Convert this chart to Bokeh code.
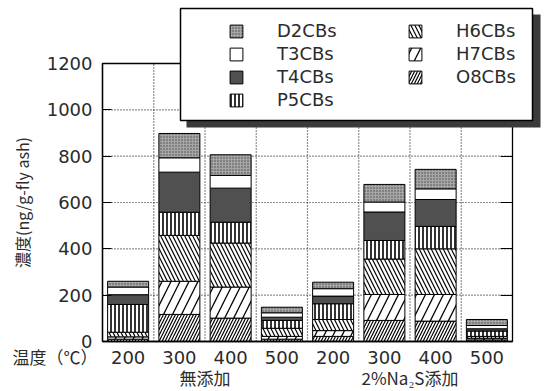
from bokeh.plotting import figure
from bokeh.models import (Range1d, LinearAxis, FixedTicker, Legend, LegendItem,
                          BoxAnnotation, Label, ColumnDataSource)
from bokeh.embed import file_html
from bokeh.resources import INLINE

# ---------------- data ----------------
temps = ["200", "300", "400", "500", "200", "300", "400", "500"]
groups = ["無添加", "2%Na₂S添加"]
group_of_bar = [0, 0, 0, 0, 1, 1, 1, 1]

# series, bottom of stack to top
series = ["O8CBs", "H7CBs", "H6CBs", "P5CBs", "T4CBs", "T3CBs", "D2CBs"]
O8 = [10, 117, 101, 10, 22, 91, 88, 7]
H7 = [10, 143, 134, 12, 25, 112, 115, 7]
H6 = [20, 198, 190, 35, 48, 153, 197, 8]
P5 = [120, 100, 90, 34, 68, 80, 97, 23]
T4 = [42, 173, 147, 14, 33, 123, 116, 10]
T3 = [33, 62, 55, 19, 32, 43, 46, 14]
D2 = [25, 105, 89, 24, 28, 76, 84, 26]

y_ticks = [0, 200, 400, 600, 800, 1000, 1200]
y_label = "濃度(ng/g-fly ash)"
x_title = "温度（℃）"

# ---------------- styles ----------------
fills = ["white", "white", "white", "white", "#505050", "white", "#a6a6a6"]
hatches = ["right_diagonal_line", "right_diagonal_line", "left_diagonal_line",
           "vertical_line", None, None, "dot"]
hscale = [6, 18, 8, 4, 12, 12, 3]
hweight = [1.2, 1.3, 1.2, 1.6, 1, 1, 0.8]
hcolor = ["black", "black", "black", "black", "black", "black", "#444444"]

TICK_FONT = "DejaVu Sans"
CJK_FONT = "Noto Sans CJK JP"
TXT = "#2b2b2b"

# ---------------- layout (canvas pixels) ----------------
W, H = 544, 391
PX_L, PX_R, PX_T, PX_B = 102, 512, 63, 341   # plotting area
GROUP_ROW_PX = 17                            # group-label row below the area

n = len(temps)
y_top = y_ticks[-1]
xs = n / (PX_R - PX_L)           # data units per pixel
ys = y_top / (PX_B - PX_T)

xpos = [i + 0.5 for i in range(n)]
src = ColumnDataSource(dict(x=xpos, O8CBs=O8, H7CBs=H7, H6CBs=H6, P5CBs=P5,
                            T4CBs=T4, T3CBs=T3, D2CBs=D2))

p = figure(width=W, height=H, output_backend="svg", toolbar_location=None,
           x_range=Range1d(-PX_L * xs, (W - PX_L) * xs),
           y_range=Range1d(-(H - PX_B) * ys, PX_B * ys),
           min_border=0)
p.outline_line_color = None
p.background_fill_color = "white"
p.border_fill_color = "white"
p.xgrid.visible = False
p.ygrid.visible = False

# dotted grid limited to the plotting area
bnd = list(range(1, n))
p.segment(x0=bnd, x1=bnd, y0=[y_ticks[0]] * len(bnd), y1=[y_top] * len(bnd),
          line_color="#222222", line_dash="1 2", line_width=1.2, level="underlay")
inner = y_ticks[1:-1]
p.segment(x0=[0] * len(inner), x1=[n] * len(inner), y0=inner, y1=inner,
          line_color="#222222", line_dash="1 2", line_width=1.2, level="underlay")

renderers = p.vbar_stack(series, x="x", width=0.8, source=src,
                         fill_color=fills, hatch_pattern=hatches,
                         hatch_scale=hscale, hatch_weight=hweight,
                         hatch_color=hcolor,
                         line_color="black", line_width=1)

# frame of plotting area
p.quad(left=[0], right=[n], bottom=[y_ticks[0]], top=[y_top], fill_color=None,
       line_color="black", line_width=1.3)

# x axis: temperatures
xa = p.xaxis[0]
xa.fixed_location = y_ticks[0]
xa.bounds = (0, n)
xa.ticker = FixedTicker(ticks=xpos)
xa.major_label_overrides = {x: t for x, t in zip(xpos, temps)}
xa.major_tick_line_color = None
xa.minor_tick_line_color = None
xa.major_label_standoff = 3
xa.major_label_text_font = TICK_FONT
xa.major_label_text_font_size = "18px"
xa.major_label_text_color = TXT
xa.axis_line_color = "black"
xa.axis_line_width = 1.3

# group axis
gcent = []
for gi in range(len(groups)):
    gx = [x for x, g in zip(xpos, group_of_bar) if g == gi]
    gcent.append(sum(gx) / len(gx))
ga = LinearAxis(ticker=FixedTicker(ticks=gcent),
                major_label_overrides={c: g for c, g in zip(gcent, groups)},
                fixed_location=-GROUP_ROW_PX * ys, bounds=(0, n),
                axis_line_color=None, major_tick_line_color=None,
                minor_tick_line_color=None, major_label_standoff=0,
                major_label_text_font=CJK_FONT,
                major_label_text_font_size="17px",
                major_label_text_color=TXT)
p.add_layout(ga, "below")

# y axis
ya = p.yaxis[0]
ya.fixed_location = 0
ya.ticker = FixedTicker(ticks=y_ticks)
ya.bounds = (y_ticks[0], y_top)
ya.major_tick_in = 9
ya.major_tick_out = 0
ya.minor_tick_line_color = None
ya.major_label_standoff = 10
ya.major_label_text_font = TICK_FONT
ya.major_label_text_font_size = "18px"
ya.major_label_text_color = TXT
ya.axis_line_width = 1.3
ya.axis_label = y_label
ya.axis_label_text_font = CJK_FONT
ya.axis_label_text_font_size = "16px"
ya.axis_label_text_font_style = "normal"
ya.axis_label_text_color = TXT
ya.axis_label_standoff = 10

# right-side inner ticks on the plotting-area border
ra = LinearAxis(ticker=FixedTicker(ticks=y_ticks),
                major_label_overrides={t: "" for t in y_ticks},
                fixed_location=n, bounds=(y_ticks[0], y_top),
                major_tick_in=12, major_tick_out=0, major_label_standoff=0,
                minor_tick_line_color=None, axis_line_color=None)
p.add_layout(ra, "right")

# row title for the temperature labels
p.add_layout(Label(x=0, y=y_ticks[0], x_offset=-90, y_offset=-15,
                   text=x_title, text_font=CJK_FONT, text_font_size="17px",
                   text_color=TXT, text_baseline="middle", text_align="left"))

# legend box with shadow (screen px from canvas bottom-left)
shadow = BoxAnnotation(left=186, right=540, top=H - 14, bottom=H - 127,
                       left_units="screen", right_units="screen",
                       top_units="screen", bottom_units="screen",
                       fill_color="#3a3a3a", fill_alpha=1, line_color=None,
                       level="guide")
box = BoxAnnotation(left=180, right=532, top=H - 8, bottom=H - 120,
                    left_units="screen", right_units="screen",
                    top_units="screen", bottom_units="screen",
                    fill_color="white", fill_alpha=1, line_color="black",
                    line_width=1.5, line_alpha=1, level="annotation")
p.add_layout(shadow)
p.add_layout(box)

by_name = dict(zip(series, renderers))
col1 = ["D2CBs", "T3CBs", "T4CBs", "P5CBs"]
col2 = ["H6CBs", "H7CBs", "O8CBs"]


def make_legend(names, loc):
    return Legend(items=[LegendItem(label=nm, renderers=[by_name[nm]]) for nm in names],
                  location=loc, orientation="vertical",
                  border_line_color=None, background_fill_alpha=0,
                  padding=0, margin=0, spacing=0,
                  glyph_width=16, glyph_height=16, label_standoff=33,
                  label_height=23, label_text_font=TICK_FONT,
                  label_text_font_size="18px", label_text_color=TXT,
                  level="overlay")


p.add_layout(make_legend(col1, (228, 280)))
p.add_layout(make_legend(col2, (407, 303)))

open("out.html", "w").write(file_html(p, INLINE))
